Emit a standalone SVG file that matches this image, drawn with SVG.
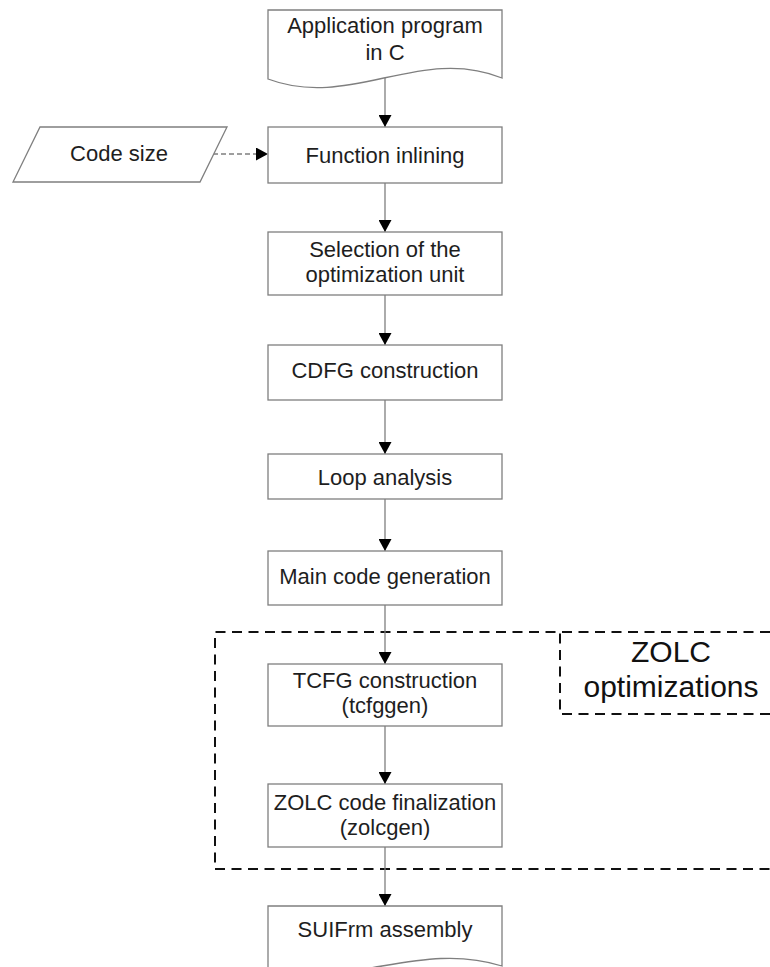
<svg xmlns="http://www.w3.org/2000/svg" width="770" height="967" viewBox="0 0 770 967">
  <style>
    .box { fill: #ffffff; stroke: #7f7f7f; stroke-width: 1.3; }
    .lbl { font-family: "Liberation Sans", Arial, sans-serif; font-size: 22px; fill: #1e1e1e; text-anchor: middle; }
    .big { font-family: "Liberation Sans", Arial, sans-serif; font-size: 30px; fill: #111111; text-anchor: middle; }
    .flow { fill: none; stroke: #7f7f7f; stroke-width: 1.3; marker-end: url(#head); }
    .dflow { fill: none; stroke: #7f7f7f; stroke-width: 1.3; stroke-dasharray: 5 3; marker-end: url(#head); }
    .region { fill: none; stroke: #111111; stroke-width: 2; stroke-dasharray: 10 6.5; }
  </style>
  <defs>
    <marker id="head" markerUnits="userSpaceOnUse" markerWidth="12" markerHeight="13" refX="12" refY="6.5" orient="auto">
      <path d="M0,0 L12,6.5 L0,13 Z" fill="#000000"/>
    </marker>
  </defs>

  <rect width="770" height="967" fill="#ffffff"/>

  <!-- ZOLC optimizations region -->
  <g id="zolc-region">
    <path class="region" d="M770,632 H215 V869 H770"/>
    <path class="region" d="M770,714 H560 V632"/>
    <text class="big" x="671" y="662">ZOLC</text>
    <text class="big" x="671" y="697">optimizations</text>
  </g>

  <!-- connectors -->
  <g id="connectors">
    <line class="flow" x1="385" y1="78" x2="385" y2="127"/>
    <line class="dflow" x1="213" y1="154" x2="268" y2="154"/>
    <line class="flow" x1="385" y1="183" x2="385" y2="232"/>
    <line class="flow" x1="385" y1="295" x2="385" y2="345"/>
    <line class="flow" x1="385" y1="400" x2="385" y2="454"/>
    <line class="flow" x1="385" y1="499" x2="385" y2="551"/>
    <line class="flow" x1="385" y1="605" x2="385" y2="664"/>
    <line class="flow" x1="385" y1="726" x2="385" y2="784"/>
    <line class="flow" x1="385" y1="847" x2="385" y2="906"/>
  </g>

  <g id="app-program">
    <path class="box" d="M268,10 H502 V78 C420,45 350,110 268,79 Z"/>
    <text class="lbl" x="385" y="33">Application program</text>
    <text class="lbl" x="385" y="60">in C</text>
  </g>

  <g id="code-size">
    <path class="box" d="M40,127 H227 L200,182 H13 Z"/>
    <text class="lbl" x="119" y="161">Code size</text>
  </g>

  <g id="function-inlining">
    <rect class="box" x="268" y="127" width="234" height="56"/>
    <text class="lbl" x="385" y="163">Function inlining</text>
  </g>

  <g id="selection">
    <rect class="box" x="268" y="232" width="234" height="63"/>
    <text class="lbl" x="385" y="257">Selection of the</text>
    <text class="lbl" x="385" y="282">optimization unit</text>
  </g>

  <g id="cdfg">
    <rect class="box" x="268" y="345" width="234" height="55"/>
    <text class="lbl" x="385" y="378">CDFG construction</text>
  </g>

  <g id="loop-analysis">
    <rect class="box" x="268" y="454" width="234" height="45"/>
    <text class="lbl" x="385" y="485">Loop analysis</text>
  </g>

  <g id="main-codegen">
    <rect class="box" x="268" y="551" width="234" height="54"/>
    <text class="lbl" x="385" y="584">Main code generation</text>
  </g>

  <g id="tcfg">
    <rect class="box" x="268" y="664" width="234" height="62"/>
    <text class="lbl" x="385" y="688">TCFG construction</text>
    <text class="lbl" x="385" y="713">(tcfggen)</text>
  </g>

  <g id="zolc-final">
    <rect class="box" x="268" y="784" width="234" height="63"/>
    <text class="lbl" x="385" y="810">ZOLC code finalization</text>
    <text class="lbl" x="385" y="835">(zolcgen)</text>
  </g>

  <g id="suifrm">
    <path class="box" d="M268,906 H502 V966 C420,940 350,990 268,968 Z"/>
    <text class="lbl" x="385" y="937">SUIFrm assembly</text>
  </g>
</svg>
